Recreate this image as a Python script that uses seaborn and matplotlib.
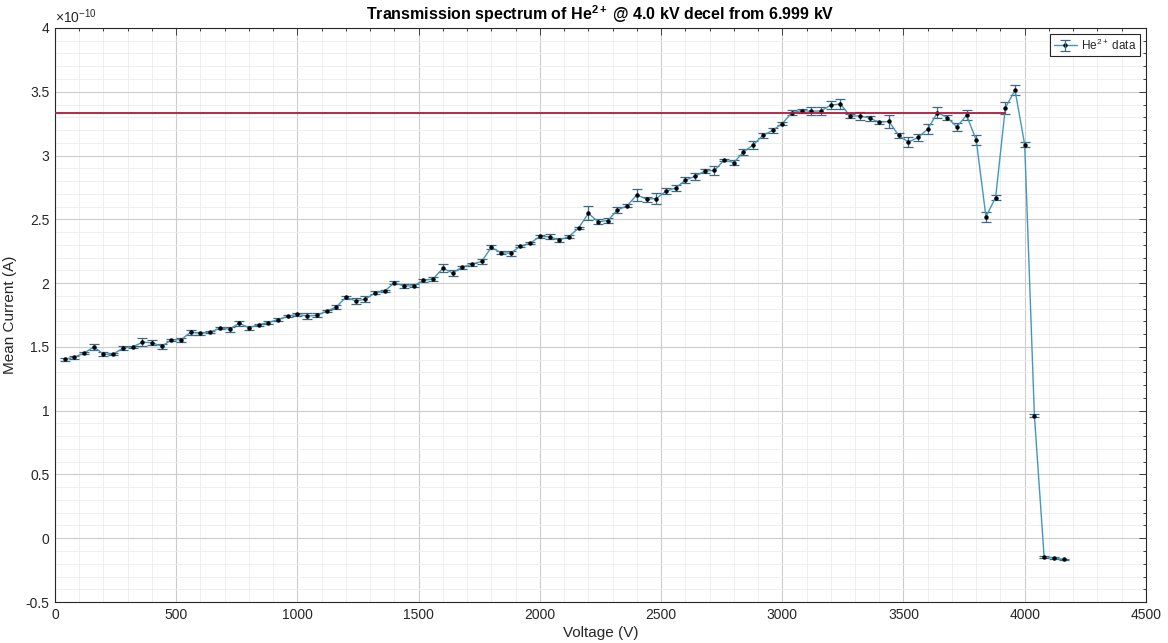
import matplotlib
matplotlib.use("Agg")
import matplotlib.pyplot as plt
import seaborn as sns
import pandas as pd
from matplotlib.ticker import MultipleLocator, FuncFormatter

# Scan voltages (V)
voltage = [
    40, 80, 120, 160, 200, 240, 280, 320, 360, 400,
    440, 480, 520, 560, 600, 640, 680, 720, 760, 800,
    840, 880, 920, 960, 1000, 1040, 1080, 1120, 1160, 1200,
    1240, 1280, 1320, 1360, 1400, 1440, 1480, 1520, 1560, 1600,
    1640, 1680, 1720, 1760, 1800, 1840, 1880, 1920, 1960, 2000,
    2040, 2080, 2120, 2160, 2200, 2240, 2280, 2320, 2360, 2400,
    2440, 2480, 2520, 2560, 2600, 2640, 2680, 2720, 2760, 2800,
    2840, 2880, 2920, 2960, 3000, 3040, 3080, 3120, 3160, 3200,
    3240, 3280, 3320, 3360, 3400, 3440, 3480, 3520, 3560, 3600,
    3640, 3680, 3720, 3760, 3800, 3840, 3880, 3920, 3960, 4000,
    4040, 4080, 4120, 4160,
]

# Mean collector current (units of 1e-10 A)
current = [
    1.402, 1.420, 1.451, 1.500, 1.443, 1.443, 1.490, 1.500, 1.536, 1.533,
    1.505, 1.554, 1.557, 1.616, 1.606, 1.616, 1.647, 1.639, 1.686, 1.649,
    1.675, 1.691, 1.714, 1.740, 1.755, 1.742, 1.747, 1.780, 1.813, 1.889,
    1.861, 1.874, 1.923, 1.938, 2.003, 1.977, 1.979, 2.021, 2.034, 2.116,
    2.080, 2.126, 2.149, 2.170, 2.281, 2.237, 2.235, 2.291, 2.312, 2.366,
    2.363, 2.338, 2.365, 2.432, 2.547, 2.482, 2.490, 2.573, 2.606, 2.692,
    2.658, 2.663, 2.720, 2.746, 2.806, 2.837, 2.878, 2.883, 2.964, 2.945,
    3.028, 3.083, 3.158, 3.197, 3.251, 3.337, 3.352, 3.347, 3.350, 3.395,
    3.404, 3.308, 3.311, 3.293, 3.262, 3.267, 3.158, 3.106, 3.142, 3.207,
    3.337, 3.298, 3.225, 3.316, 3.122, 2.521, 2.671, 3.373, 3.513, 3.085,
    0.960, -0.145, -0.155, -0.165,
]

# Standard error of the mean current (units of 1e-10 A)
current_err = [
    0.010, 0.012, 0.010, 0.025, 0.015, 0.010, 0.015, 0.008, 0.030, 0.020,
    0.020, 0.008, 0.015, 0.020, 0.010, 0.008, 0.010, 0.020, 0.020, 0.015,
    0.008, 0.015, 0.010, 0.008, 0.010, 0.020, 0.015, 0.008, 0.015, 0.010,
    0.025, 0.025, 0.012, 0.010, 0.012, 0.015, 0.012, 0.012, 0.015, 0.030,
    0.025, 0.012, 0.012, 0.020, 0.015, 0.012, 0.020, 0.008, 0.008, 0.015,
    0.020, 0.015, 0.010, 0.008, 0.055, 0.020, 0.020, 0.020, 0.012, 0.045,
    0.020, 0.040, 0.025, 0.025, 0.025, 0.030, 0.015, 0.035, 0.010, 0.020,
    0.020, 0.030, 0.020, 0.020, 0.012, 0.020, 0.015, 0.030, 0.030, 0.030,
    0.040, 0.015, 0.030, 0.020, 0.012, 0.050, 0.020, 0.040, 0.025, 0.040,
    0.040, 0.020, 0.030, 0.040, 0.040, 0.040, 0.020, 0.050, 0.040, 0.020,
    0.012, 0.008, 0.006, 0.006,
]

# Plateau reference level and its extent
plateau_voltage = [0, 3920]
plateau_current = [3.333, 3.333]

df = pd.DataFrame({"Voltage": voltage, "Current": current, "Err": current_err})
plateau = pd.DataFrame({"Voltage": plateau_voltage, "Current": plateau_current})

sns.set_theme(style="whitegrid")
plt.rcParams["font.family"] = ["Liberation Sans", "DejaVu Sans"]
plt.rcParams["mathtext.fontset"] = "custom"
plt.rcParams["mathtext.rm"] = "Liberation Sans"
plt.rcParams["mathtext.it"] = "Liberation Sans:italic"
plt.rcParams["mathtext.bf"] = "Liberation Sans:bold"

text_col = "#262626"
line_col = "#4596bd"
bar_col = "#3c6c82"

fig = plt.figure(figsize=(11.68, 6.43), dpi=100)
ax = fig.add_axes([0.0471, 0.0637, 0.9340, 0.8928])
ax.set_facecolor("white")

# Error bars
eb = ax.errorbar(df["Voltage"], df["Current"], yerr=df["Err"], fmt="none",
                 ecolor=bar_col, elinewidth=0.9, capsize=3.5, capthick=0.9,
                 zorder=3)

# Data line with point markers
sns.lineplot(data=df, x="Voltage", y="Current", ax=ax, color=line_col,
             linewidth=1.0, marker="o", markersize=2.4,
             markerfacecolor="black", markeredgecolor="black",
             sort=False, zorder=4, legend=False)
data_line = ax.lines[-1]

# Plateau reference line
sns.lineplot(data=plateau, x="Voltage", y="Current", ax=ax,
             color="#b5173a", linewidth=1.3, zorder=5, legend=False)

ax.set_xlim(0, 4500)
ax.set_ylim(-0.5, 4)
ax.xaxis.set_major_locator(MultipleLocator(500))
ax.xaxis.set_minor_locator(MultipleLocator(100))
ax.yaxis.set_major_locator(MultipleLocator(0.5))
ax.yaxis.set_minor_locator(MultipleLocator(0.1))
ax.yaxis.set_major_formatter(FuncFormatter(lambda v, p: f"{v:g}"))

ax.grid(which="major", color="#cccccc", linewidth=0.8)
ax.grid(which="minor", color="#ededed", linewidth=0.6)
ax.set_axisbelow(True)

for s in ax.spines.values():
    s.set_color(text_col)
    s.set_linewidth(0.8)

ax.tick_params(which="both", direction="in", top=True, right=True,
               colors=text_col, labelsize=10, width=0.6)
ax.tick_params(which="major", length=5, pad=4)
ax.tick_params(which="minor", length=2.5)

ax.set_xlabel("Voltage (V)", fontsize=11, color=text_col, labelpad=3)
ax.set_ylabel("Mean Current (A)", fontsize=11, color=text_col, labelpad=6)
ax.set_title(r"Transmission spectrum of He$^{\mathbf{2+}}$ @ 4.0 kV decel from 6.999 kV",
             fontsize=11.5, fontweight="bold", color="black", pad=6)

ax.text(0.0, 1.004, r"×10$^{-10}$", transform=ax.transAxes, ha="left",
        va="bottom", fontsize=10, color=text_col)

leg = ax.legend(handles=[(data_line, eb)], labels=[r"He$^{2+}$ data"],
                loc="upper right", fontsize=8.5, frameon=True, fancybox=False,
                borderaxespad=0.5, handlelength=2.0, handletextpad=0.3,
                borderpad=0.3)
leg.get_frame().set_edgecolor(text_col)
leg.get_frame().set_linewidth(0.8)
leg.get_frame().set_alpha(1.0)

fig.savefig("out.png", dpi=100, facecolor="white")
